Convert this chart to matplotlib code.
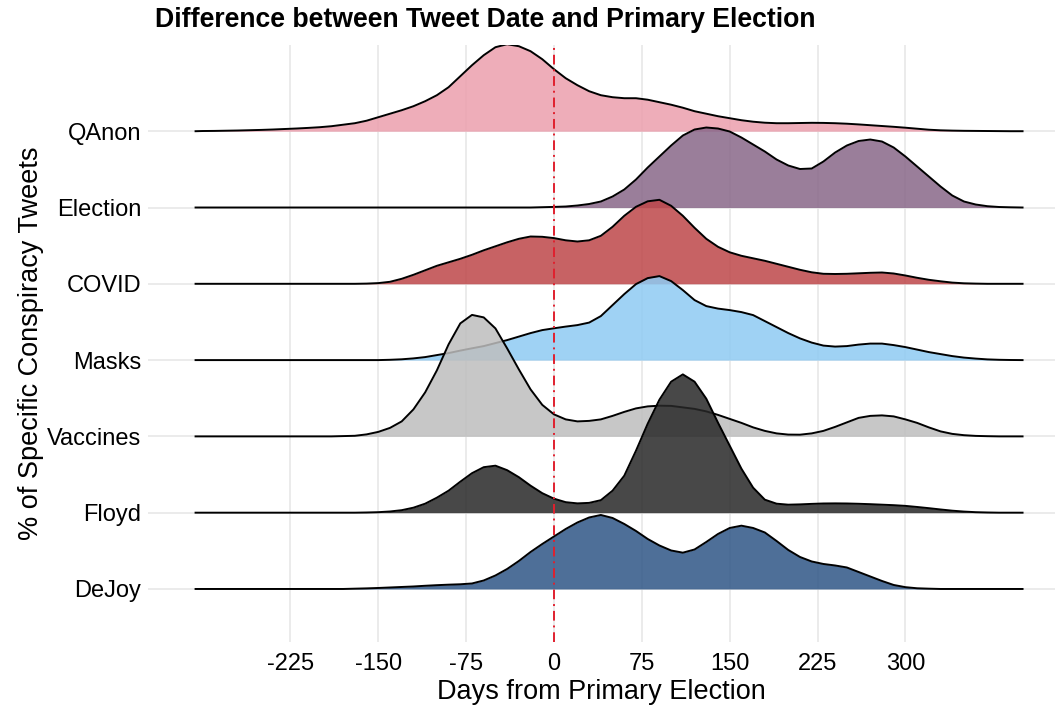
import numpy as np
import matplotlib.pyplot as plt

plt.rcParams['font.family'] = ['Liberation Sans', 'DejaVu Sans']

# x grid (days from primary election) at which the densities were read
days = [-306] + list(range(-300, 401, 10))

# density heights (arbitrary units), one list per conspiracy, read at `days`
qanon = [0,
         0.2, 0.3, 0.5, 0.7, 1, 1.3, 1.7, 2.2, 2.7, 3.3,
         4, 5, 6.5, 8, 10.5, 14, 17.5, 21, 25, 30,
         36, 44, 55, 66, 76, 84, 87, 85, 80, 72,
         62, 53, 46, 40, 36, 34, 33, 33, 31.5, 29,
         26.5, 23.5, 20, 17.5, 15, 13, 11, 9.5, 8.5, 8,
         8, 8.2, 8.4, 8.3, 8, 7.5, 6.8, 6, 5.2, 4.4,
         3.5, 2.5, 1.5, 0.9, 0.6, 0.4, 0.3, 0.2, 0.1, 0,
         0]
election = [0] + [0] * 29 + [
    0.3, 0.6, 1, 2, 3.5, 6, 11, 18, 28, 40,
    51, 62, 72, 78, 80, 79, 76, 70, 63, 56,
    48, 42, 38.5, 39, 46, 55, 62, 66.5, 68, 66,
    60, 51, 41, 31, 21, 12, 6, 3, 1.3, 0.5,
    0.2, 0]
covid = [0] + [0] * 14 + [
    0.2, 0.7, 2, 5, 9, 13.5, 18, 21.5, 25, 29,
    33.5, 37.5, 41.5, 45, 47.3, 47, 45.7, 43.5, 42.3, 43.5,
    48, 57, 68, 77, 82.5, 84, 78, 68, 56, 45,
    37, 31.5, 28, 25.5, 23, 20, 17, 14, 11.5, 10,
    9.8, 10, 10.5, 11, 11.3, 10.3, 8.3, 6, 4, 2.5,
    1.2, 0.5, 0.2, 0, 0, 0, 0]
masks = [0] + [0] * 16 + [
    0.3, 0.8, 1.7, 3, 5, 7, 9.5, 11.8, 14, 17,
    20, 23.5, 27, 30, 31.8, 33.5, 35, 37.5, 44, 55,
    66, 76, 82, 84, 79, 70, 60, 54, 51.5, 50,
    48, 45, 39, 33, 27, 21.7, 17.5, 14.5, 13.5, 14,
    15.5, 16.5, 16.5, 15, 13, 10.5, 8, 6, 4, 2.5,
    1.5, 0.7, 0.3, 0.1, 0]
vaccines = [0] + [0] * 12 + [
    0.3, 0.6, 2, 4.5, 8.5, 15, 27, 44, 66, 92,
    113, 121.5, 119, 108, 88, 67, 47, 31.5, 22, 17,
    15, 15.5, 17, 20.5, 24.5, 28, 30, 30.7, 30.5, 29,
    27.5, 25, 21.5, 17.5, 13.5, 9, 5.5, 3, 1.8, 1.7,
    3, 5.5, 9.5, 14, 18.5, 20.5, 21, 20, 17, 13.5,
    9, 5, 2.5, 1.2, 0.5, 0.2, 0, 0, 0]
floyd = [0] + [0] * 14 + [
    0.2, 0.5, 1.2, 2.5, 5, 9, 15, 22, 31, 39.5,
    45.5, 47, 42.5, 35.5, 27, 19.5, 14, 10.5, 9.3, 9.8,
    12.5, 22, 37, 62, 89, 113, 131, 138.3, 131, 114,
    90, 67, 44, 25, 13, 9, 8, 8.3, 8.8, 9.2,
    9.3, 9.2, 8.9, 8.5, 8, 7.5, 6.8, 5.7, 4.5, 3.2,
    2, 1.1, 0.5, 0.2, 0, 0, 0]
dejoy = [0] + [0] * 13 + [
    0.3, 0.6, 1, 1.5, 2, 2.5, 3.2, 3.8, 4.3, 4.7,
    5.5, 8.5, 13.5, 20, 28, 37, 45, 52.5, 60, 66.5,
    71.5, 74, 71, 65, 58, 50, 43.5, 38.5, 36.3, 39.5,
    47, 55, 61, 63.3, 61, 56.5, 48, 39, 32, 27.5,
    25, 23.5, 21.5, 17, 12.5, 8, 4, 1.8, 0.7, 0.3,
    0, 0, 0, 0, 0, 0, 0, 0]

# top row first, as in the chart
labels = ['QAnon', 'Election', 'COVID', 'Masks', 'Vaccines', 'Floyd', 'DeJoy']
series = [qanon, election, covid, masks, vaccines, floyd, dejoy]
colors = ['#EC9FAD', '#886789', '#BE4649', '#8ECBF3', '#BEBEBE', '#282828', '#2F5686']
xticks = [-225, -150, -75, 0, 75, 150, 225, 300]

scale = 1 / 76.3  # density units -> row spacing

fig = plt.figure(figsize=(10.55, 7.11), dpi=100)
ax = fig.add_axes([148 / 1055, 69 / 711, 907 / 1055, 597 / 711])

n = len(labels)
x = np.array(days)
for i, (lab, vals, col) in enumerate(zip(labels, series, colors)):
    base = n - 1 - i
    top = base + np.array(vals) * scale
    ax.fill_between(x, base, top, color=col, alpha=0.85, lw=0, zorder=2 + 2 * i)
    ax.plot(x, top, color='black', lw=1.4, zorder=3 + 2 * i,
            solid_joinstyle='round')

ax.axvline(0, color='#E0202E', lw=1.4, ls=(0, (5, 2.5, 1, 2.5)), zorder=30)

ax.set_xlim(-346.6, 427.7)
ax.set_ylim(-0.695, 7.13)
ax.set_xticks(xticks)
ax.set_xticklabels([str(t) for t in xticks])
ax.set_yticks(range(n))
ax.set_yticklabels(labels[::-1])
ax.grid(True, color='#E6E6E6', lw=1.1, zorder=0)
ax.set_axisbelow(True)
for s in ax.spines.values():
    s.set_visible(False)
ax.tick_params(axis='x', length=0, labelsize=17, colors='black', pad=8)
ax.tick_params(axis='y', length=0, labelsize=17, colors='black', pad=5)

ax.set_xlabel('Days from Primary Election', fontsize=19.5, labelpad=3)
ax.set_ylabel('% of Specific Conspiracy Tweets', fontsize=19.5, labelpad=2)
fig.text(155 / 1055, 1 - 20 / 711, 'Difference between Tweet Date and Primary Election',
         fontsize=19.2, fontweight='bold', ha='left', va='center')

fig.savefig('out.png', dpi=100)
